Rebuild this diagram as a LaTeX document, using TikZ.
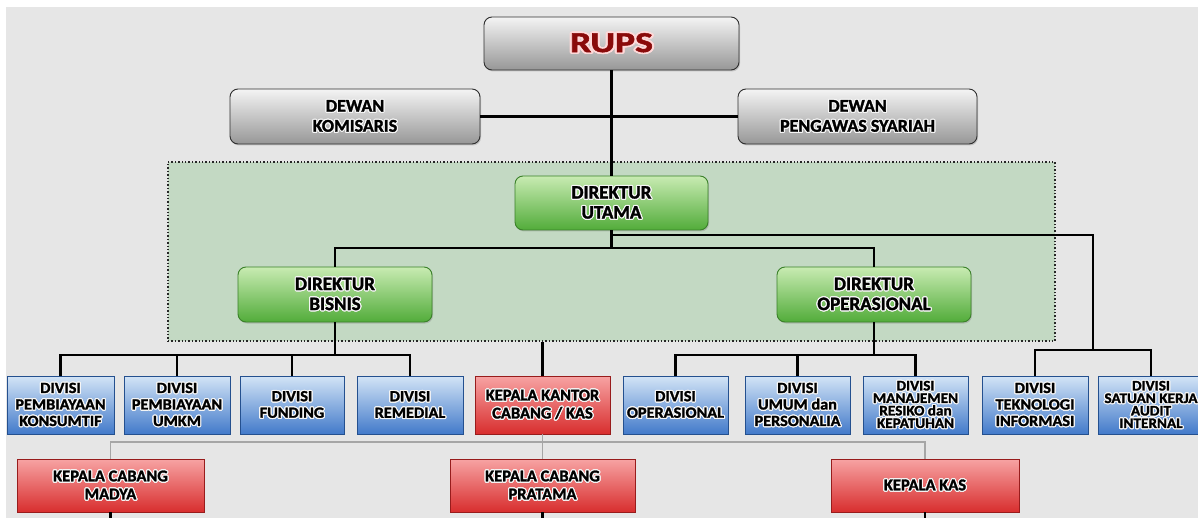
\documentclass[tikz,border=0pt]{standalone}
\usepackage{fontspec}
\setmainfont{Carlito}[BoldFeatures={FakeBold=1.6}]
\newfontfamily\widefont{Carlito}[BoldFeatures={FakeBold=1.6, FakeStretch=1.05}]
\usepackage{contour}
\contourlength{1.1pt}
\contournumber{20}
\usetikzlibrary{shadows}
\definecolor{bgc}{HTML}{E6E6E6}
\definecolor{grayT}{HTML}{F4F4F4}
\definecolor{grayB}{HTML}{979797}
\definecolor{grayD}{HTML}{2E2E2E}
\definecolor{greenT}{HTML}{C8EBB2}
\definecolor{greenB}{HTML}{52AC3A}
\definecolor{greenD}{HTML}{3A8029}
\definecolor{blueT}{HTML}{D3E4F6}
\definecolor{blueB}{HTML}{427ACA}
\definecolor{blueD}{HTML}{24508F}
\definecolor{redT}{HTML}{F7A3A3}
\definecolor{redB}{HTML}{D82E2E}
\definecolor{redD}{HTML}{981C1C}
\definecolor{dirfill}{HTML}{C3D9C3}
\definecolor{rupsred}{HTML}{8A0A0A}
\definecolor{glow}{HTML}{F6F6F6}
\newcommand{\gl}[1]{\contour{glow}{#1}}
\tikzset{
  box/.style={draw, line width=0.9pt, align=center, inner sep=0pt, text=black},
  graybox/.style={box, rounded corners=8pt, top color=grayT, bottom color=grayB, draw=grayD,
     drop shadow={opacity=0.35, shadow xshift=1pt, shadow yshift=-1.5pt},
     font=\fontsize{18}{20}\selectfont\bfseries},
  greenbox/.style={box, rounded corners=8pt, top color=greenT, bottom color=greenB, draw=greenD,
     drop shadow={opacity=0.35, shadow xshift=1pt, shadow yshift=-1.5pt},
     font=\fontsize{19}{20}\selectfont\bfseries, minimum width=194pt, minimum height=55pt},
  bluebox/.style={box, top color=blueT, bottom color=blueB, draw=blueD,
     font=\widefont\fontsize{15.5}{16.5}\selectfont\bfseries, minimum width=106pt, minimum height=58pt},
  redbox/.style={box, top color=redT, bottom color=redB, draw=redD,
     font=\fontsize{16.5}{18}\selectfont\bfseries},
  conn/.style={line width=2.2pt, black},
  lightconn/.style={line width=1.2pt, color=black!35}
}
\begin{document}
\begin{tikzpicture}[x=1pt, y=-1pt]
\useasboundingbox (0,0) rectangle (1198,518);
\fill[bgc] (6,7) rectangle (1198,518);
% direksi area
\node[draw=black!85, dotted, line width=1.4pt, fill=dirfill, minimum width=887pt, minimum height=179pt, inner sep=0pt] (direksi) at (611.5,251.5) {};
% top
\node[graybox, minimum width=255pt, minimum height=53pt, font=\fontsize{29}{30}\selectfont\bfseries, text=rupsred] (rups) at (611.5,43.5) {\contourlength{1.6pt}\scalebox{1.3}[1]{\contour{white!85!red}{RUPS}}};
\node[graybox, minimum width=250pt, minimum height=55pt] (kom) at (355,116.5) {\gl{DEWAN}\\\gl{KOMISARIS}};
\node[graybox, minimum width=239pt, minimum height=55pt] (pen) at (857.5,116.5) {\gl{DEWAN}\\\gl{PENGAWAS SYARIAH}};
% directors
\node[greenbox, minimum width=193pt, minimum height=54pt] (utama) at (611.5,203) {\gl{DIREKTUR}\\\gl{UTAMA}};
\node[greenbox] (bisnis) at (335,294.5) {\gl{DIREKTUR}\\\gl{BISNIS}};
\node[greenbox] (dirops) at (874,294.5) {\gl{DIREKTUR}\\\gl{OPERASIONAL}};
% divisions
\node[bluebox, minimum width=107pt] (kons) at (60.5,405) {\gl{DIVISI}\\\gl{PEMBIAYAAN}\\\gl{KONSUMTIF}};
\node[bluebox] (umkm) at (177,405) {\gl{DIVISI}\\\gl{PEMBIAYAAN}\\\gl{UMKM}};
\node[bluebox, minimum width=104pt] (fund) at (292,405) {\gl{DIVISI}\\\gl{FUNDING}};
\node[bluebox] (reme) at (410,405) {\gl{DIVISI}\\\gl{REMEDIAL}};
\node[redbox, minimum width=135pt, minimum height=58pt] (kk) at (542.5,405) {\gl{KEPALA KANTOR}\\\gl{CABANG / KAS}};
\node[bluebox, minimum width=105pt] (ops) at (675.5,405) {\gl{DIVISI}\\\gl{OPERASIONAL}};
\node[bluebox, minimum width=105pt] (umum) at (797.5,405) {\gl{DIVISI}\\\gl{UMUM dan}\\\gl{PERSONALIA}};
\node[bluebox, minimum width=105pt, font=\widefont\fontsize{14.5}{12.5}\selectfont\bfseries] (mr) at (915.5,405) {\gl{DIVISI}\\\gl{MANAJEMEN}\\\gl{RESIKO dan}\\\gl{KEPATUHAN}};
\node[bluebox] (ti) at (1035,405) {\gl{DIVISI}\\\gl{TEKNOLOGI}\\\gl{INFORMASI}};
\node[bluebox, font=\widefont\fontsize{14.5}{12.5}\selectfont\bfseries] (audit) at (1151,405) {\gl{DIVISI}\\\gl{SATUAN KERJA}\\\gl{AUDIT}\\\gl{INTERNAL}};
% branches
\node[redbox, minimum width=187pt, minimum height=53pt] (madya) at (110.5,485.5) {\gl{KEPALA CABANG}\\\gl{MADYA}};
\node[redbox, minimum width=185pt, minimum height=53pt] (pratama) at (542.5,485.5) {\gl{KEPALA CABANG}\\\gl{PRATAMA}};
\node[redbox, minimum width=188pt, minimum height=53pt] (kas) at (925,485.5) {\gl{KEPALA KAS}};
% coordinates
\coordinate (bbus) at (611.5,248);
\coordinate (ujunc) at (611.5,235);
\coordinate (rbus) at (1093,350);
\coordinate (lbus) at (335,355);
\coordinate (obus) at (874,355);
\coordinate (gbus) at (542.5,442);
\coordinate (bot) at (0,518);
% connectors
\draw[conn] (rups.south) -- (utama.north);
\draw[conn] (kom.east) -- (pen.west);
\draw[conn] (utama.south) -- (bbus);
\draw[conn] (bisnis.north) |- (bbus) -| (dirops.north);
\draw[conn] (ujunc) -| (rbus);
\draw[conn] (ti.north) |- (rbus) -| (audit.north);
\draw[conn] (bisnis.south) -- (lbus);
\draw[conn] (kons.north) |- (lbus) -| (reme.north);
\draw[conn] (umkm.north) -- (umkm.north |- lbus);
\draw[conn] (fund.north) -- (fund.north |- lbus);
\draw[conn] (dirops.south) -- (obus);
\draw[conn] (ops.north) |- (obus) -| (mr.north);
\draw[conn] (umum.north) -- (umum.north |- obus);
\draw[conn] (direksi.south -| kk.north) -- (kk.north);
\draw[lightconn] (kk.south) -- (gbus);
\draw[lightconn] (madya.north) |- (gbus) -| (kas.north);
\draw[lightconn] (gbus) -- (pratama.north);
\draw[conn] (madya.south) -- (madya.south |- bot);
\draw[conn] (pratama.south) -- (pratama.south |- bot);
\draw[conn] (kas.south) -- (kas.south |- bot);
\end{tikzpicture}
\end{document}
